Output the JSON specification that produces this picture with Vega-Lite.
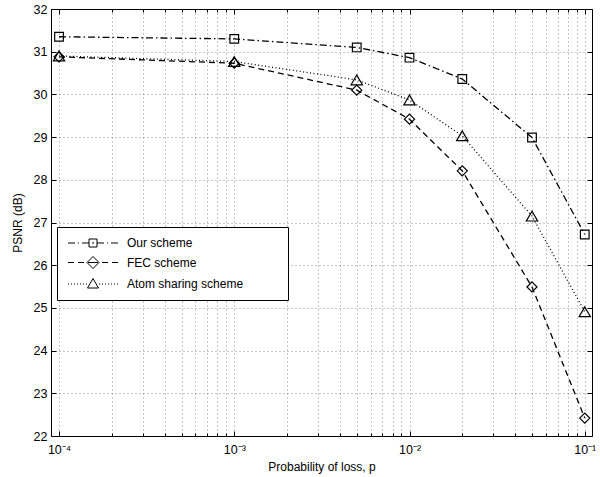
{
  "$schema": "https://vega.github.io/schema/vega-lite/v6.json",
  "width": 541,
  "height": 427,
  "autosize": "none",
  "padding": {"left": 51, "top": 9, "right": 8, "bottom": 41},
  "background": "white",
  "config": {
    "font": "Liberation Sans",
    "view": {"stroke": "black", "strokeWidth": 1},
    "axis": {
      "labelFont": "Liberation Sans",
      "titleFont": "Liberation Sans",
      "labelFontSize": 12.5,
      "titleFontSize": 12,
      "labelColor": "black",
      "titleColor": "black",
      "titleFontWeight": "normal",
      "tickColor": "black",
      "domain": false,
      "gridColor": "#000",
      "gridOpacity": 0.45,
      "gridDash": [1, 3],
      "gridWidth": 1
    }
  },
  "data": {
    "values": [
      {"p": 0.0001, "psnr": 31.35, "scheme": "Our scheme"},
      {"p": 0.001, "psnr": 31.30, "scheme": "Our scheme"},
      {"p": 0.005, "psnr": 31.10, "scheme": "Our scheme"},
      {"p": 0.01, "psnr": 30.86, "scheme": "Our scheme"},
      {"p": 0.02, "psnr": 30.36, "scheme": "Our scheme"},
      {"p": 0.05, "psnr": 28.99, "scheme": "Our scheme"},
      {"p": 0.1, "psnr": 26.72, "scheme": "Our scheme"},
      {"p": 0.0001, "psnr": 30.88, "scheme": "FEC scheme"},
      {"p": 0.001, "psnr": 30.73, "scheme": "FEC scheme"},
      {"p": 0.005, "psnr": 30.10, "scheme": "FEC scheme"},
      {"p": 0.01, "psnr": 29.42, "scheme": "FEC scheme"},
      {"p": 0.02, "psnr": 28.21, "scheme": "FEC scheme"},
      {"p": 0.05, "psnr": 25.49, "scheme": "FEC scheme"},
      {"p": 0.1, "psnr": 22.42, "scheme": "FEC scheme"},
      {"p": 0.0001, "psnr": 30.90, "scheme": "Atom sharing scheme"},
      {"p": 0.001, "psnr": 30.77, "scheme": "Atom sharing scheme"},
      {"p": 0.005, "psnr": 30.34, "scheme": "Atom sharing scheme"},
      {"p": 0.01, "psnr": 29.87, "scheme": "Atom sharing scheme"},
      {"p": 0.02, "psnr": 29.03, "scheme": "Atom sharing scheme"},
      {"p": 0.05, "psnr": 27.15, "scheme": "Atom sharing scheme"},
      {"p": 0.1, "psnr": 24.91, "scheme": "Atom sharing scheme"}
    ]
  },
  "layer": [
    {
      "mark": {"type": "line", "color": "black", "strokeWidth": 1.3},
      "encoding": {
        "x": {
          "field": "p", "type": "quantitative",
          "scale": {"type": "log", "domain": [0.00009, 0.11], "nice": false},
          "axis": {
            "orient": "bottom",
            "values": [0.0001, 0.001, 0.01, 0.1],
            "labelExpr": "datum.value < 0.0005 ? '10⁻⁴' : datum.value < 0.005 ? '10⁻³' : datum.value < 0.05 ? '10⁻²' : '10⁻¹'",
            "tickSize": -5,
            "labelPadding": 12,
            "grid": false,
            "title": "Probability of loss, p",
            "titlePadding": 6
          }
        },
        "y": {
          "field": "psnr", "type": "quantitative",
          "scale": {"domain": [22, 32], "nice": false, "zero": false},
          "axis": {
            "orient": "left",
            "values": [22, 23, 24, 25, 26, 27, 28, 29, 30, 31, 32],
            "tickSize": -5,
            "labelPadding": 9,
            "grid": true,
            "title": "PSNR (dB)",
            "titlePadding": 9
          }
        },
        "detail": {"field": "scheme"},
        "strokeDash": {
          "field": "scheme", "type": "nominal",
          "scale": {
            "domain": ["Our scheme", "FEC scheme", "Atom sharing scheme"],
            "range": [[7, 3, 1.5, 3], [6, 4], [1, 2.5]]
          },
          "legend": null
        }
      }
    },
    {
      "mark": {"type": "point", "filled": false, "color": "black", "strokeWidth": 1.2, "opacity": 1},
      "encoding": {
        "x": {
          "field": "p", "type": "quantitative",
          "axis": {
            "orient": "bottom",
            "values": [0.0001, 0.0002, 0.0003, 0.0004, 0.0005, 0.0006, 0.0007, 0.0008, 0.0009, 0.001, 0.002, 0.003, 0.004, 0.005, 0.006, 0.007, 0.008, 0.009, 0.01, 0.02, 0.03, 0.04, 0.05, 0.06, 0.07, 0.08, 0.09, 0.1],
            "labels": false,
            "tickSize": -3,
            "grid": true,
            "title": null
          }
        },
        "y": {
          "field": "psnr", "type": "quantitative",
          "axis": {
            "orient": "right",
            "values": [22, 23, 24, 25, 26, 27, 28, 29, 30, 31, 32],
            "labels": false,
            "tickSize": -5,
            "grid": false,
            "title": null
          }
        },
        "shape": {
          "field": "scheme", "type": "nominal",
          "scale": {
            "domain": ["Our scheme", "FEC scheme", "Atom sharing scheme"],
            "range": ["square", "diamond", "triangle-up"]
          },
          "legend": null
        },
        "size": {
          "field": "scheme", "type": "nominal",
          "scale": {
            "domain": ["Our scheme", "FEC scheme", "Atom sharing scheme"],
            "range": [75, 128, 135]
          },
          "legend": null
        }
      }
    },
    {
      "transform": [{"filter": "false"}],
      "mark": {"type": "point", "filled": false, "color": "black"},
      "encoding": {
        "x": {
          "field": "p", "type": "quantitative",
          "axis": {
            "orient": "top",
            "values": [0.0001, 0.0002, 0.0003, 0.0004, 0.0005, 0.0006, 0.0007, 0.0008, 0.0009, 0.001, 0.002, 0.003, 0.004, 0.005, 0.006, 0.007, 0.008, 0.009, 0.01, 0.02, 0.03, 0.04, 0.05, 0.06, 0.07, 0.08, 0.09, 0.1],
            "labels": false,
            "tickSize": -3,
            "grid": false,
            "title": null
          }
        },
        "y": {"field": "psnr", "type": "quantitative", "axis": null},
        "shape": {
          "field": "scheme", "type": "nominal",
          "scale": {
            "domain": ["Our scheme", "FEC scheme", "Atom sharing scheme"],
            "range": [
              "M-5,0H-3.6M-3,0H-2.8M-2.2,0H-0.8M-0.2,0H0.2M0.8,0H2.2M2.8,0H3M3.6,0H5M-0.8,-0.8H0.8V0.8H-0.8ZM36.6,0",
              "M-5,0H-3.8M-3,0H-1.8M-1,0H1M1.8,0H3M3.8,0H5M-1.2,0L0,-1.2L1.2,0L0,1.2ZM36.6,0",
              "M-5,0H-4.8M-4.4,0H-4.2M-3.8,0H-3.6M-3.2,0H-3M-2.6,0H-2.4M-2,0H-1.8M-1.4,0H-1.2M1.2,0H1.4M1.8,0H2M2.4,0H2.6M3,0H3.2M3.6,0H3.8M4.2,0H4.4M4.8,0H5M0,-1.1L1.1,0.8L-1.1,0.8ZM36.6,0"
            ]
          },
          "legend": {
            "title": null,
            "orient": "none",
            "legendX": 6,
            "legendY": 218,
            "strokeColor": "black",
            "fillColor": "white",
            "padding": 10,
            "symbolSize": 100,
            "symbolOffset": 20,
            "labelOffset": 28,
            "symbolStrokeColor": "black",
            "symbolFillColor": "transparent",
            "symbolStrokeWidth": 1,
            "symbolOpacity": 1,
            "labelFont": "Liberation Sans",
            "labelFontSize": 12,
            "labelColor": "black",
            "rowPadding": 5.5
          }
        }
      }
    },
    {
      "transform": [{"filter": "false"}],
      "mark": {"type": "point", "filled": false, "color": "black"},
      "encoding": {
        "x": {
          "field": "p", "type": "quantitative",
          "axis": {
            "orient": "top",
            "values": [0.0001, 0.001, 0.01, 0.1],
            "labels": false,
            "tickSize": -5,
            "grid": false,
            "title": null
          }
        },
        "y": {"field": "psnr", "type": "quantitative", "axis": null}
      }
    }
  ],
  "resolve": {
    "scale": {"shape": "independent"},
    "axis": {"x": "independent", "y": "independent"}
  }
}
